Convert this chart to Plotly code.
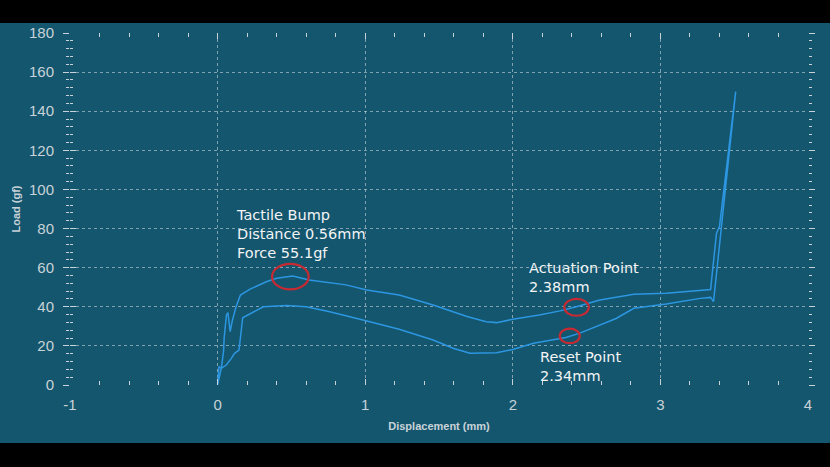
import plotly.graph_objects as go

# press stroke (down) and release stroke (up), displacement mm / load gf
press_x = [0.0, 0.01, 0.025, 0.04, 0.045, 0.06, 0.07, 0.085, 0.10, 0.125, 0.155, 0.22,
           0.285, 0.33, 0.40, 0.51, 0.62, 0.76, 0.87, 1.01, 1.23, 1.46, 1.69, 1.82,
           1.89, 2.0, 2.18, 2.32, 2.43, 2.59, 2.82, 3.04, 3.27, 3.34, 3.38, 3.40, 3.51]
press_y = [0, 4, 8.5, 17, 24.7, 35.8, 37, 27.3, 33, 40, 46, 49,
           51.2, 52.8, 54.6, 55.7, 53.7, 52.3, 51.2, 48.6, 46, 40.9, 35, 32.4,
           31.9, 33.6, 35.8, 37.9, 40, 43.5, 46.4, 46.9, 48.6, 48.8, 77.6, 81, 150]

release_x = [3.51, 3.36, 3.34, 3.27, 3.04, 2.82, 2.70, 2.59, 2.45, 2.36, 2.23, 2.14,
             2.0, 1.89, 1.71, 1.60, 1.46, 1.23, 0.985, 0.76, 0.60, 0.47, 0.31, 0.17,
             0.145, 0.115, 0.093, 0.059, 0.025, 0.009, 0.0]
release_y = [150, 42.6, 44.8, 44.3, 41.4, 39.2, 34, 30.7, 26.4, 24.3, 22.7, 21.3,
             18.2, 16.5, 16.2, 18.7, 23, 28.5, 33.2, 37.5, 40, 40.7, 40, 34.4,
             17.9, 16.2, 13.6, 10.2, 8.5, 9.4, 0]

x_ticks = [-1, 0, 1, 2, 3, 4]
x_tick_text = ["-1", "0", "1", "2", "3", "4"]

# marked points: (x, y, half width, half height)
marks = [(0.493, 55.4, 0.124, 6.5),
         (2.432, 39.7, 0.083, 4.3),
         (2.386, 25.1, 0.068, 3.7)]

labels = ["Tactile Bump<br>Distance 0.56mm<br>Force 55.1gf",
          "Actuation Point<br>2.38mm",
          "Reset Point<br>2.34mm"]
label_x = [0.108, 2.095, 2.17]
label_y = [77.2, 55.2, 9.7]

BG = "#14566e"
TICK = "#c8d2d8"
GRID = "rgba(200,212,220,0.6)"

fig = go.Figure()
fig.add_trace(go.Scatter(x=press_x + release_x[1:], y=press_y + release_y[1:],
                         mode="lines", line=dict(color="#2d96e1", width=1.5),
                         showlegend=False, hoverinfo="skip"))
# invisible trace on the overlay axis so it gets drawn
fig.add_trace(go.Scatter(x=[0], y=[0], yaxis="y2", mode="markers",
                         marker=dict(opacity=0), showlegend=False, hoverinfo="skip"))

for cx, cy, rx, ry in marks:
    fig.add_shape(type="circle", xref="x", yref="y",
                  x0=cx - rx, x1=cx + rx, y0=cy - ry, y1=cy + ry,
                  line=dict(color="#c62a32", width=2.2))

for t, lx, ly in zip(labels, label_x, label_y):
    fig.add_annotation(x=lx, y=ly, xref="x", yref="y", text=t, showarrow=False,
                       xanchor="left", yanchor="middle", align="left",
                       font=dict(family="DejaVu Sans", size=14.5, color="#f2f4f5"))

# black letterbox bars
fig.add_shape(type="rect", xref="paper", yref="paper", x0=-0.2, x1=1.2,
              y0=1.0284, y1=1.2, fillcolor="black", line=dict(width=0), layer="above")
fig.add_shape(type="rect", xref="paper", yref="paper", x0=-0.2, x1=1.2,
              y0=-0.4, y1=-0.1648, fillcolor="black", line=dict(width=0), layer="above")

axis_font = dict(family="Liberation Sans", size=15, color=TICK)

fig.update_layout(
    width=830, height=467,
    margin=dict(l=70, r=22, t=33, b=82),
    paper_bgcolor=BG, plot_bgcolor=BG,
    xaxis=dict(range=[-1, 4], tickvals=x_ticks, ticktext=x_tick_text,
               showgrid=True, gridcolor=GRID, griddash="dot", automargin=False,
               gridwidth=1, zeroline=False, showline=False,
               ticks="inside", ticklen=6, tickcolor=TICK, mirror="ticks",
               minor=dict(dtick=0.2, ticks="inside", ticklen=4, tickcolor=TICK, showgrid=False),
               tickfont=axis_font, ticklabelstandoff=9,
               title=dict(text="<b>Displacement (mm)</b>", standoff=10,
                          font=dict(family="Liberation Sans", size=11, color=TICK))),
    yaxis=dict(range=[0, 180], dtick=20, showgrid=True, gridcolor=GRID, griddash="dot",
               gridwidth=1, zeroline=False, showline=False, automargin=False,
               ticks="outside", ticklen=6, tickcolor=TICK, mirror="ticks",
               minor=dict(dtick=4, ticks="outside", ticklen=3, tickcolor=TICK, showgrid=False),
               tickfont=axis_font, ticklabelstandoff=6,
               title=dict(text="<b>Load (gf)</b>", standoff=6,
                          font=dict(family="Liberation Sans", size=11, color=TICK))),
    yaxis2=dict(range=[0, 180], dtick=20, overlaying="y", side="left", automargin=False,
                showgrid=False, zeroline=False, showline=False, showticklabels=False,
                ticks="inside", ticklen=6, tickcolor=TICK,
                minor=dict(dtick=4, ticks="inside", ticklen=3, tickcolor=TICK)),
)

fig.write_html("out.html", config={"displayModeBar": False},
               post_script="document.body.style.margin='0';"
                           "document.body.style.overflow='hidden';")
